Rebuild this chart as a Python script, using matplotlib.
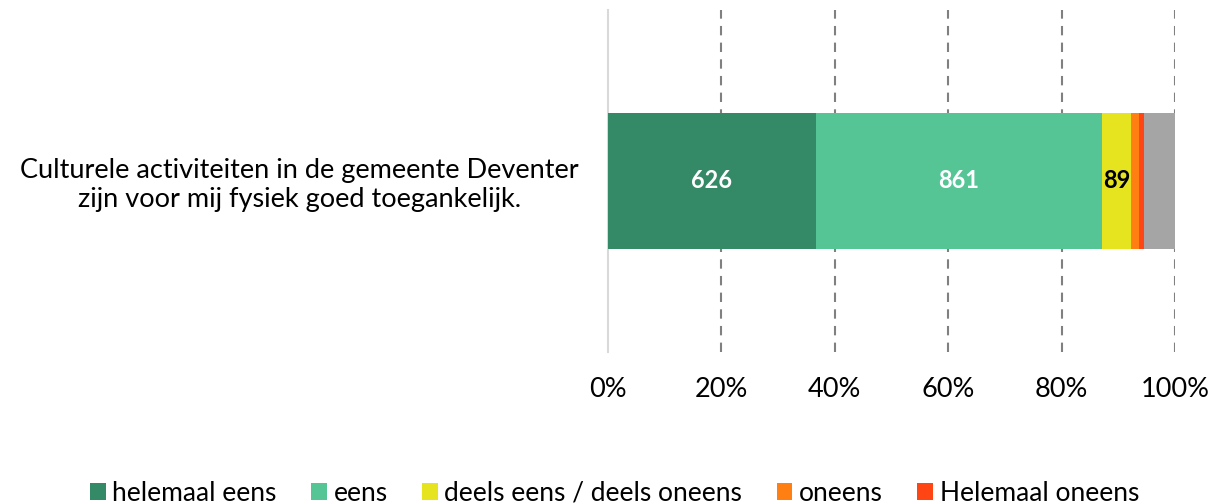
import matplotlib.pyplot as plt

# --- data ---
vraag = 'Culturele activiteiten in de gemeente Deventer\nzijn voor mij fysiek goed toegankelijk.'
categorieen = ['helemaal eens', 'eens', 'deels eens / deels oneens', 'oneens', 'Helemaal oneens', 'weet niet']
aantallen = [626, 861, 89, 24, 15, 93]
kleuren = ['#348A66', '#55C596', '#E6E41E', '#FF7F12', '#FF4514', '#A5A5A5']
label_kleur = ['white', 'white', 'black', None, None, None]
in_legenda = [True, True, True, True, True, False]

plt.rcParams['font.family'] = ['Lato', 'DejaVu Sans']

totaal = sum(aantallen)
fig = plt.figure(figsize=(12.29, 5.04), dpi=100)
ax = fig.add_axes([0.4947, 0.302, 0.4615, 0.678])

links = 0
for naam, n, kleur, lk, leg in zip(categorieen, aantallen, kleuren, label_kleur, in_legenda):
    breedte = n / totaal
    ax.barh(0, breedte, left=links, height=0.4, color=kleur,
            label=naam if leg else '_nolegend_', zorder=3)
    if lk is not None:
        ax.text(links + breedte / 2, 0, str(n), ha='center', va='center',
                color=lk, fontsize=17, fontweight='bold', zorder=4)
    links += breedte

ax.set_xlim(0, 1)
ax.set_ylim(-0.5, 0.5)
ax.set_xticks([0, 0.2, 0.4, 0.6, 0.8, 1.0])
ax.set_xticklabels(['0%', '20%', '40%', '60%', '80%', '100%'], fontsize=19.5)
ax.set_yticks([0])
ax.set_yticklabels([vraag], fontsize=19.5, ha='center')
ax.tick_params(axis='y', length=0, pad=222)
ax.tick_params(axis='x', length=0, pad=18)
ax.grid(axis='x', color='#808080', linestyle=(0, (4.5, 3.5)), linewidth=1.5, zorder=1)
ax.xaxis.get_gridlines()[0].set_visible(False)
for s in ['top', 'right', 'bottom']:
    ax.spines[s].set_visible(False)
ax.spines['left'].set_color('#D9D9D9')
ax.spines['left'].set_linewidth(1.5)

fig.legend(loc='lower center', bbox_to_anchor=(0.5, -0.035), ncol=5, frameon=False,
           fontsize=19, handlelength=0.6, handleheight=0.6, handletextpad=0.25,
           columnspacing=1.3, borderpad=0.1)

plt.savefig('out.png')
